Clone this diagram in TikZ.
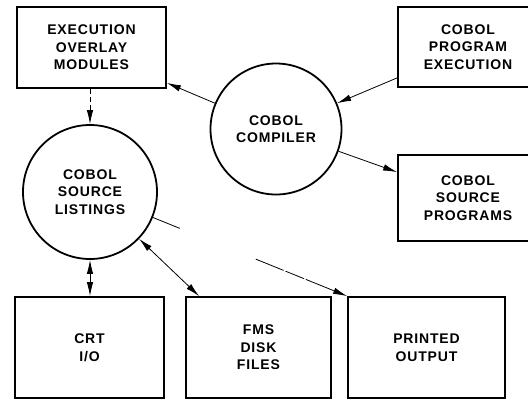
\documentclass[tikz,border=0pt]{standalone}
\usepackage{fontspec}
\setmainfont{Liberation Sans}[LetterSpace=6]
\usetikzlibrary{arrows.meta}
\begin{document}
\begin{tikzpicture}[x=1pt,y=-1pt,
  lbl/.style={font=\fontsize{14}{17.5}\selectfont\bfseries, align=center},
  boxnode/.style={draw, line width=1.8pt, rectangle, inner sep=0pt, lbl},
  circnode/.style={draw, line width=1.8pt, circle, inner sep=0pt, lbl},
  conn/.style={line width=0.8pt},
  tip/.style={-{Latex[length=14pt,width=6.5pt]}},
  both/.style={{Latex[length=14pt,width=6.5pt]}-{Latex[length=14pt,width=6.5pt]}}]
\clip (0,0) rectangle (528,400);
\fill[white] (0,0) rectangle (528,400);
% boxes
\node[boxnode, minimum width=149pt, minimum height=81pt] (ovl) at (91.5,47.5) {EXECUTION\\OVERLAY\\MODULES};
\node[boxnode, minimum width=140pt, minimum height=80pt] (pex) at (468,47) {COBOL\\PROGRAM\\EXECUTION};
\node[boxnode, minimum width=140pt, minimum height=86pt] (src) at (468,198) {COBOL\\SOURCE\\PROGRAMS};
\node[boxnode, minimum width=149pt, minimum height=101pt] (crt) at (89.5,347.5) {CRT\\I/O};
\node[boxnode, minimum width=145pt, minimum height=101pt] (fms) at (258.5,347.5) {FMS\\DISK\\FILES};
\node[boxnode, minimum width=157pt, minimum height=101pt] (prt) at (426.5,347.5) {PRINTED\\OUTPUT};
% circles
\node[circnode, minimum size=131pt] (cmp) at (276,129) {COBOL\\COMPILER};
\node[circnode, minimum size=134pt] (lst) at (90,192) {COBOL\\SOURCE\\LISTINGS};
% connectors
\draw[conn, tip] (cmp) -- ([yshift=6pt]ovl.south east);
\draw[conn, tip] ([yshift=10pt]pex.south west) -- (cmp);
\draw[conn, tip] (cmp) -- ([yshift=-18pt]src.north west);
\draw[conn, tip, dash pattern=on 5pt off 3pt] (lst.north |- ovl.south) -- (lst.north);
\draw[conn, both] (lst.south) -- (lst.south |- crt.north);
\draw[conn, both] (lst) -- ([xshift=14pt]fms.north west);
\draw[conn, tip, dash pattern=on 29pt off 82pt on 30pt off 2pt on 20pt off 2pt on 60pt] (lst) -- (prt.north west);
\end{tikzpicture}
\end{document}
